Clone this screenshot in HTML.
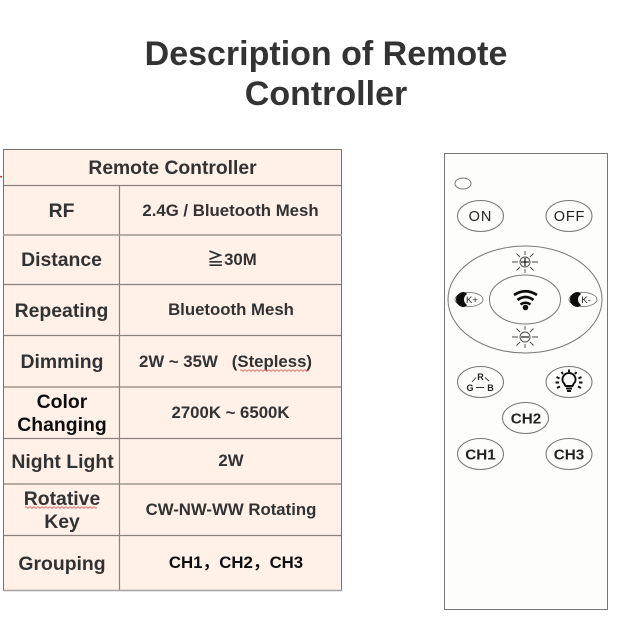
<!DOCTYPE html>
<html><head><meta charset="utf-8">
<style>html,body{margin:0;padding:0;background:#fff}svg{display:block}
text{font-family:"Liberation Sans","Noto Sans CJK SC",sans-serif;font-weight:bold;fill:#333;text-anchor:middle}</style></head>
<body>
<svg width="631" height="619" viewBox="0 0 631 619" xmlns="http://www.w3.org/2000/svg">
<defs><filter id="b" x="-5%" y="-5%" width="110%" height="110%"><feGaussianBlur stdDeviation="0.35"/></filter></defs>
<rect width="631" height="619" fill="#fff"/>
<text x="326" y="65" font-size="34">Description of Remote</text>
<text x="326" y="105" font-size="34">Controller</text>
<rect x="3.500" y="149.500" width="338" height="441" fill="#fff0e8"/>
<g stroke="#8a827c" stroke-width="1.200" fill="none">
<path d="M3 185.500H342M3 235H342M3 284.500H342M3 335.500H342M3 387H342M3 438.500H342M3 484H342M3 535.500H342M119.500 185V590"/>
</g>
<rect x="3.500" y="149.500" width="338" height="441" fill="none" stroke="#787069" stroke-width="1"/>
<path d="M3 590.500H342M3 235H342" stroke="#a8a09a" stroke-width="1.600"/>
<path d="M0 176.500L2 177" stroke="#d33" stroke-width="1.500"/>
<g font-size="19.400" filter="url(#b)">
<text x="172.500" y="174" font-size="19.300">Remote Controller</text>
<text x="61.500" y="217">RF</text>
<text x="61.500" y="266">Distance</text>
<text x="61.500" y="317">Repeating</text>
<text x="62" y="368">Dimming</text>
<text x="62" y="408" style="fill:#111">Color</text>
<text x="62" y="431" style="fill:#111">Changing</text>
<text x="62.500" y="468">Night Light</text>
<text x="62" y="505">Rotative</text>
<text x="62" y="528">Key</text>
<text x="62" y="570">Grouping</text>
</g>
<g font-size="16.800" filter="url(#b)">
<text x="230.500" y="216">2.4G / Bluetooth Mesh</text>
<text x="232" y="265">≧30M</text>
<text x="231" y="315">Bluetooth Mesh</text>
<text x="225.500" y="367">2W ~ 35W &#160; (Stepless)</text>
<text x="230.500" y="418">2700K ~ 6500K</text>
<text x="231" y="466">2W</text>
<text x="231" y="515">CW-NW-WW Rotating</text>
<text x="236" y="568" style="fill:#111">CH1，CH2，CH3</text>
</g>
<path d="M240 370.500q1 -1.500 2 0t2 0t2 0t2 0t2 0t2 0t2 0t2 0t2 0t2 0t2 0t2 0t2 0t2 0t2 0t2 0t2 0t2 0t2 0t2 0t2 0t2 0t2 0t2 0t2 0t2 0t2 0t2 0t2 0t2 0t2 0t2 0t2 0t2 0" fill="none" stroke="#d55" stroke-width=".8"/>
<path d="M25 507.500q1 -1.500 2 0t2 0t2 0t2 0t2 0t2 0t2 0t2 0t2 0t2 0t2 0t2 0t2 0t2 0t2 0t2 0t2 0t2 0t2 0t2 0t2 0t2 0t2 0t2 0t2 0t2 0t2 0t2 0t2 0t2 0t2 0t2 0t2 0t2 0t2 0t2 0t2" fill="none" stroke="#d55" stroke-width=".8"/>

<rect x="444.500" y="153.500" width="163" height="456" fill="#fdfdfb" stroke="#777" stroke-width="1"/>
<g filter="url(#b)">
<g fill="#fdfdfb" stroke="#777" stroke-width="1">
<ellipse cx="463" cy="183.500" rx="8" ry="5.500"/>
<ellipse cx="480.500" cy="216" rx="23" ry="15.500"/>
<ellipse cx="569" cy="216" rx="23" ry="15.500"/>
<ellipse cx="525" cy="299.500" rx="77" ry="53.500"/>
<ellipse cx="525" cy="299.500" rx="35.500" ry="24.500"/>
<ellipse cx="480.500" cy="382" rx="23" ry="15.500"/>
<ellipse cx="569" cy="382" rx="23" ry="15.500"/>
<ellipse cx="525.500" cy="418" rx="23" ry="15.500"/>
<ellipse cx="480.500" cy="454" rx="23" ry="15.500"/>
<ellipse cx="569" cy="454" rx="23" ry="15.500"/>
</g>
<text x="480.500" y="221" font-size="14.500" style="font-weight:normal;fill:#222;letter-spacing:1px">ON</text>
<text x="569.500" y="221" font-size="14.500" style="font-weight:normal;fill:#222;letter-spacing:.8px">OFF</text>
<text x="526" y="423.500" font-size="15.200" style="fill:#222">CH2</text>
<text x="480.500" y="459.500" font-size="15.200" style="fill:#222">CH1</text>
<text x="569" y="459.500" font-size="15.200" style="fill:#222">CH3</text>
<text x="480.500" y="380" font-size="9" style="fill:#222">R</text>
<text x="470" y="391" font-size="9" style="fill:#222">G</text>
<text x="490.500" y="391" font-size="9" style="fill:#222">B</text>
<path d="M476 387.500H484M472 382L476 377.500M485 377.500L489 381" stroke="#333" stroke-width=".9" fill="none"/>

<g stroke="#444" stroke-width=".9" fill="none">
<circle cx="525" cy="262" r="5"/>
<path d="M518 262H512M538 262H532M525 255V251M525 273V269M520 257L516.500 253.500M533.500 270.500L530 267M530 257L533.500 253.500M516.500 270.500L520 267"/>
<circle cx="525" cy="337" r="5"/>
<path d="M518 337H512M538 337H532M525 330V326M525 348V344M520 332L516.500 328.500M533.500 345.500L530 342M530 332L533.500 328.500M516.500 345.500L520 342"/>
</g>
<path d="M521 262H529M525 258V266M521 337H529" stroke="#222" stroke-width="1.300"/>

<g fill="none" stroke="#111">
<path d="M514 295Q525.500 287.500 537 295" stroke-width="2.700"/>
<path d="M517.500 300Q525.500 294 533.500 300" stroke-width="2.700"/>
<path d="M520.500 304.500Q525.500 301 530.500 304.500" stroke-width="2.500"/>
</g>
<circle cx="525.500" cy="307.500" r="2.800" fill="#111"/>

<ellipse cx="469" cy="299.500" rx="14" ry="7" fill="#fdfdfb" stroke="#666" stroke-width=".8"/>
<ellipse cx="583" cy="299.500" rx="14" ry="7" fill="#fdfdfb" stroke="#666" stroke-width=".8"/>
<path d="M464 292.500A7.500 7 0 1 0 464 306.500A8 7.500 0 0 0 464 292.500Z" fill="#111" stroke="#111"/>
<path d="M578 292.500A7.500 7 0 1 0 578 306.500A8 7.500 0 0 0 578 292.500Z" fill="#111" stroke="#111"/>
<ellipse cx="471" cy="299.500" rx="7" ry="6.500" fill="#fdfdfb"/>
<ellipse cx="585" cy="299.500" rx="7" ry="6.500" fill="#fdfdfb"/>
<text x="472" y="303" font-size="9.500" style="font-weight:normal;fill:#222">K+</text>
<text x="586" y="303" font-size="9.500" style="font-weight:normal;fill:#222">K-</text>

<g fill="none" stroke="#111">
<path d="M565.500 386Q564.500 383.500 563 382A6.500 6.500 0 1 1 575 382Q573.500 383.500 572.500 386Z" stroke-width="1.900"/>
<path d="M566 388.500H572M567 391H571" stroke-width="2"/>
<path d="M569 369.500V372M561.500 372L563 374M576.500 372L575 374M556.500 377L559.500 378.500M581.500 377L578.500 378.500M555.500 382.500H559M582.500 382.500H579M557 388L560 386.500M581 388L578 386.500" stroke-width="1.900"/>
</g>
</g>
</svg>
</body></html>
